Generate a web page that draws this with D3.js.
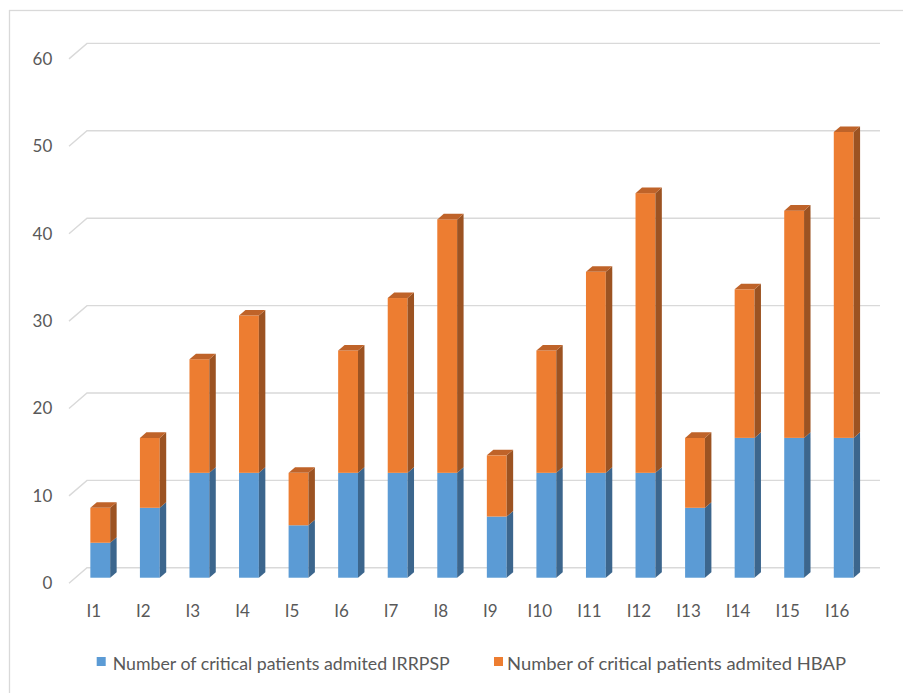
<!DOCTYPE html>
<html>
<head>
<meta charset="utf-8">
<script src="https://cdn.jsdelivr.net/npm/d3@7"></script>
<style>
  html, body { margin: 0; padding: 0; background: #fff; }
  svg { display: block; font-family: Lato, "Open Sans", sans-serif; }
</style>
</head>
<body>
<svg id="chart" width="903" height="693"></svg>
<script>
// Indicators and admitted critical patients per unit
const categories = ["I1","I2","I3","I4","I5","I6","I7","I8","I9","I10","I11","I12","I13","I14","I15","I16"];
const irrpsp = [4, 8, 12, 12, 6, 12, 12, 12, 7, 12, 12, 12, 8, 16, 16, 16];
const hbap   = [4, 8, 13, 18, 6, 14, 20, 29, 7, 14, 23, 32, 8, 17, 26, 35];
const seriesNames = ["Number of critical patients admited IRRPSP", "Number of critical patients admited HBAP"];
const yTicks = [0, 10, 20, 30, 40, 50, 60];

const svg = d3.select("#chart");

// Outer frame
svg.append("rect")
  .attr("x", 9.5).attr("y", 10.5).attr("width", 905).attr("height", 700)
  .attr("fill", "none").attr("stroke", "#d9d9d9").attr("stroke-width", 1.3);

// Front plane of the 3-D box and the depth vector to the back wall
const plot = { left: 69, right: 862, bottom: 583.3, top: 58.9 };
const depth = { x: 18, y: -15.5 };
const barDepth0 = 0.36;   // bars start this far into the box
const barDepth = 0.36;    // and are this deep

const x = d3.scaleBand().domain(categories)
  .range([plot.left, plot.right]).paddingInner(0.6).paddingOuter(0.3);
const y = d3.scaleLinear().domain([0, 60]).range([plot.bottom, plot.top]);

// Back-wall gridlines with the slanted floor/side stubs
const grid = svg.append("g").attr("stroke", "#d9d9d9").attr("stroke-width", 1.4).attr("fill", "none");
yTicks.forEach(t => {
  const yf = y(t), yb = y(t) + depth.y;
  grid.append("path")
    .attr("d", `M${plot.left},${yf}L${plot.left + depth.x},${yb}L${plot.right + depth.x},${yb}`);
});

// Stacked series
const stack = categories.map((c, i) => ({
  cat: c,
  segs: [
    { y0: 0, y1: irrpsp[i], s: 0 },
    { y0: irrpsp[i], y1: irrpsp[i] + hbap[i], s: 1 }
  ]
}));
const colors = [
  { front: "#5b9bd5", side: "#3c668d", top: "#4a80b4" },
  { front: "#ed7d31", side: "#9c5322", top: "#bf6329" }
];

const dx0 = depth.x * barDepth0, dy0 = depth.y * barDepth0;
const ddx = depth.x * barDepth, ddy = depth.y * barDepth;
const bars = svg.append("g");
stack.forEach(d => {
  const xl = x(d.cat) + dx0, xr = xl + x.bandwidth();
  const g = bars.append("g");
  d.segs.forEach((sg, k) => {
    const yt = y(sg.y1) + dy0, yb = y(sg.y0) + dy0;
    const c = colors[sg.s];
    g.append("rect").attr("x", xl).attr("y", yt).attr("width", xr - xl).attr("height", yb - yt)
      .attr("fill", c.front);
    g.append("path")
      .attr("d", `M${xr},${yt}L${xr + ddx},${yt + ddy}L${xr + ddx},${yb + ddy}L${xr},${yb}Z`)
      .attr("fill", c.side);
    if (k === d.segs.length - 1) {
      g.append("path")
        .attr("d", `M${xl},${yt}L${xl + ddx},${yt + ddy}L${xr + ddx},${yt + ddy}L${xr},${yt}Z`)
        .attr("fill", c.top);
    }
  });
});

// Value axis labels
const yAxis = svg.append("g").attr("transform", `translate(${plot.left},0)`)
  .call(d3.axisLeft(y).tickValues(yTicks).tickSize(0).tickPadding(16.7));
yAxis.select(".domain").remove();
yAxis.selectAll("text").attr("fill", "#595959").style("font-size", "17px").style("font-family", "Lato, sans-serif");

// Category axis labels
const xAxis = svg.append("g").attr("transform", `translate(0,${plot.bottom})`)
  .call(d3.axisBottom(x).tickSize(0).tickPadding(21.3));
xAxis.select(".domain").remove();
xAxis.selectAll("text").attr("fill", "#595959").style("font-size", "17px").style("font-family", "Lato, sans-serif");

// Legend
const legendPos = [{ sx: 96.7, tx: 112.7, w: 337 }, { sx: 494, tx: 507, w: 339 }];
const legend = svg.append("g");
seriesNames.forEach((name, i) => {
  legend.append("rect").attr("x", legendPos[i].sx).attr("y", 657).attr("width", 9).attr("height", 9)
    .attr("fill", colors[i].front);
  legend.append("text").attr("x", legendPos[i].tx).attr("y", 669.5)
    .attr("fill", "#595959").style("font-size", "18px")
    .attr("textLength", legendPos[i].w).attr("lengthAdjust", "spacingAndGlyphs")
    .text(name);
});
</script>
</body>
</html>
